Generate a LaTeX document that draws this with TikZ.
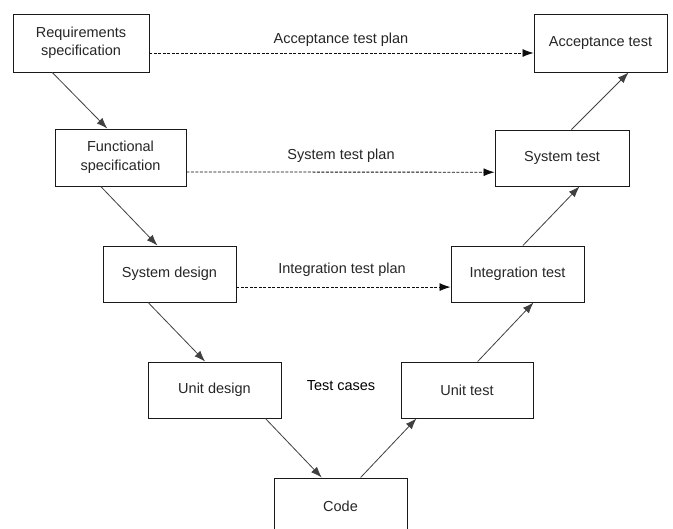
\documentclass[tikz,border=0pt]{standalone}
\usepackage{fontspec}
\setmainfont{Liberation Sans}
\usetikzlibrary{arrows.meta,calc}
\begin{document}
\begin{tikzpicture}[x=1pt,y=-1pt,
  box/.style={draw=black!90,line width=0.9pt,fill=white,align=center,inner sep=0pt,
    font=\fontsize{14.5}{18.5}\selectfont,text=black!85},
  flow/.style={draw=black!75,line width=0.8pt,-{Latex[length=11pt,width=8pt]}},
  plan/.style={draw=black!95,line width=0.85pt,dash pattern=on 3pt off 1.5pt,-{Latex[length=11pt,width=8pt]}},
  lbl/.style={font=\fontsize{14.5}{18.5}\selectfont,text=black!85,inner sep=0pt}]
\useasboundingbox (0,0) rectangle (673,529);
\clip (0,0) rectangle (673,529);
\fill[white] (0,0) rectangle (673,529);
% boxes
\node[box,minimum width=136pt,minimum height=58pt] (req) at (81,43) {Requirements\\specification};
\node[box,minimum width=133pt,minimum height=58pt] (acc) at (600.5,43) {Acceptance test};
\node[box,minimum width=131pt,minimum height=57pt] (func) at (120.5,157.5) {Functional\\specification};
\node[box,minimum width=134pt,minimum height=56pt] (st) at (562,158) {System test};
\node[box,minimum width=133pt,minimum height=56pt] (sd) at (169.5,274) {System design};
\node[box,minimum width=133pt,minimum height=56pt] (it) at (517.5,274) {Integration test};
\node[box,minimum width=133pt,minimum height=56pt] (ud) at (214.5,390) {Unit design};
\node[box,minimum width=132pt,minimum height=56pt] (ut) at (467,390) {Unit test};
\node[box,minimum width=133pt,minimum height=56pt] (code) at (340.5,506) {Code};
% V flow
\draw[flow] ($(req.south west)!0.29!(req.south east)$) -- ($(func.north west)!0.40!(func.north east)$);
\draw[flow] ($(func.south west)!0.35!(func.south east)$) -- ($(sd.north west)!0.41!(sd.north east)$);
\draw[flow] ($(sd.south west)!0.34!(sd.south east)$) -- ($(ud.north west)!0.43!(ud.north east)$);
\draw[flow] ($(ud.south west)!0.88!(ud.south east)$) -- ($(code.north west)!0.36!(code.north east)$);
\draw[flow] ($(code.north west)!0.65!(code.north east)$) -- ($(ut.south west)!0.12!(ut.south east)$);
\draw[flow] ($(ut.north west)!0.58!(ut.north east)$) -- ($(it.south west)!0.62!(it.south east)$);
\draw[flow] ($(it.north west)!0.54!(it.north east)$) -- ($(st.south west)!0.63!(st.south east)$);
\draw[flow] ($(st.north west)!0.57!(st.north east)$) -- ($(acc.south west)!0.71!(acc.south east)$);
% test plans
\draw[plan] ($(req.north east)!0.67!(req.south east)$) -- ($(acc.north west)!0.67!(acc.south west)$);
\draw[plan] ($(func.north east)!0.75!(func.south east)$) -- ($(st.north west)!0.75!(st.south west)$);
\draw[plan] ($(sd.north east)!0.73!(sd.south east)$) -- ($(it.north west)!0.73!(it.south west)$);
% labels
\node[lbl] (accplan) at (341,40) {Acceptance test plan};
\node[lbl] (stplan) at (341,156) {System test plan};
\node[lbl] (itplan) at (342,270) {Integration test plan};
\node[lbl,text=black] (cases) at (341,386) {Test cases};
\end{tikzpicture}
\end{document}
